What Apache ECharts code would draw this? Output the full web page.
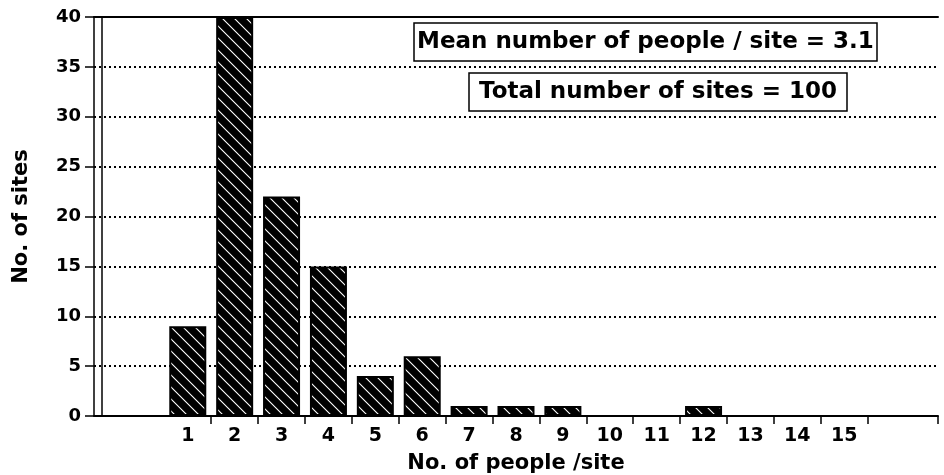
<!DOCTYPE html>
<html>
<head>
<meta charset="utf-8">
<script src="https://cdn.jsdelivr.net/npm/echarts@6/dist/echarts.min.js"></script>
<style>
html,body{margin:0;padding:0;background:#fff;}
#chart{width:944px;height:475px;}
</style>
</head>
<body>
<div id="chart"></div>
<script>
// ---- data ----
const categories = ['1','2','3','4','5','6','7','8','9','10','11','12','13','14','15'];
const sites = [9, 40, 22, 15, 4, 6, 1, 1, 1, 0, 0, 1, 0, 0, 0];
const padLeft = ['', ''];
const padRight = ['', ''];
const yMin = 0, yMax = 40, yStep = 5;
const meanText = 'Mean number of people / site = 3.1';
const totalText = 'Total number of sites = 100';
const xTitle = 'No. of people /site';
const yTitle = 'No. of sites';

// ---- derived ----
const axisData = padLeft.concat(categories, padRight);
const barData = padLeft.map(() => null).concat(sites, padRight.map(() => null));
const tickPositions = categories.map((c, i) => padLeft.length + i + 0.5).concat([axisData.length - 1]);

// hatch pattern
const T = 12;
const tile = document.createElement('canvas');
tile.width = T; tile.height = T;
const g = tile.getContext('2d');
g.fillStyle = '#000'; g.fillRect(0, 0, T, T);
g.strokeStyle = '#fff'; g.lineWidth = 1.1;
g.beginPath();
g.moveTo(-2, -2); g.lineTo(T + 2, T + 2);
g.moveTo(-T - 2, -2); g.lineTo(2, T + 2);
g.moveTo(T - 2, -2); g.lineTo(2 * T + 2, T + 2);
g.stroke();

const FONT = 'DejaVu Sans';
const chart = echarts.init(document.getElementById('chart'), null, {renderer: 'canvas'});
chart.setOption({
  animation: false,
  backgroundColor: '#fff',
  title: [
    {text: meanText, left: 414, top: 23, borderColor: '#000', borderWidth: 1.5,
     padding: [8, 3, 7, 3],
     textStyle: {fontFamily: FONT, fontWeight: 'bold', fontSize: 23, color: '#000'}},
    {text: totalText, left: 469, top: 73, borderColor: '#000', borderWidth: 1.5,
     padding: [8, 10, 7, 10],
     textStyle: {fontFamily: FONT, fontWeight: 'bold', fontSize: 23, color: '#000'}}
  ],
  grid: {left: 94, right: 6, top: 17, bottom: 59, outerBoundsMode: 'none', containLabel: false},
  xAxis: [
    {type: 'category', data: axisData, boundaryGap: false,
     axisLine: {lineStyle: {color: '#000', width: 2}},
     axisTick: {show: false},
     axisLabel: {color: '#000', fontFamily: FONT, fontWeight: 'bold', fontSize: 19, margin: 11, interval: 0},
     splitLine: {show: false},
     name: xTitle, nameLocation: 'middle', nameGap: 37,
     nameTextStyle: {color: '#000', fontFamily: FONT, fontWeight: 'bold', fontSize: 21}},
    {type: 'value', min: 0, max: axisData.length - 1, position: 'bottom',
     axisLine: {show: false}, axisLabel: {show: false}, splitLine: {show: false},
     axisTick: {show: true, length: 8, customValues: tickPositions, lineStyle: {color: '#000', width: 1.5}}},
    {type: 'category', data: axisData, boundaryGap: false, position: 'top',
     axisLine: {lineStyle: {color: '#000', width: 2}}, axisTick: {show: false}, axisLabel: {show: false}}
  ],
  yAxis: [
    {type: 'value', min: yMin, max: yMax, interval: yStep,
     axisLine: {show: true, lineStyle: {color: '#000', width: 1.5}},
     axisTick: {show: true, length: 9, lineStyle: {color: '#000', width: 1.5}},
     axisLabel: {color: '#000', fontFamily: FONT, fontWeight: 'bold', fontSize: 18, margin: 13},
     splitLine: {show: true, lineStyle: {color: '#000', width: 2, type: [2, 3]}},
     name: yTitle, nameLocation: 'middle', nameGap: 62, nameRotate: 90,
     nameTextStyle: {color: '#000', fontFamily: FONT, fontWeight: 'bold', fontSize: 21}},
    {type: 'value', min: yMin, max: yMax, position: 'left', offset: -8,
     axisLine: {show: true, lineStyle: {color: '#000', width: 1.5}},
     axisTick: {show: false}, axisLabel: {show: false}, splitLine: {show: false}}
  ],
  series: [{
    type: 'bar', data: barData, xAxisIndex: 0, yAxisIndex: 0, barWidth: 37,
    itemStyle: {color: {image: tile, repeat: 'repeat'}, borderColor: '#000', borderWidth: 2}
  }]
});
</script>
</body>
</html>
